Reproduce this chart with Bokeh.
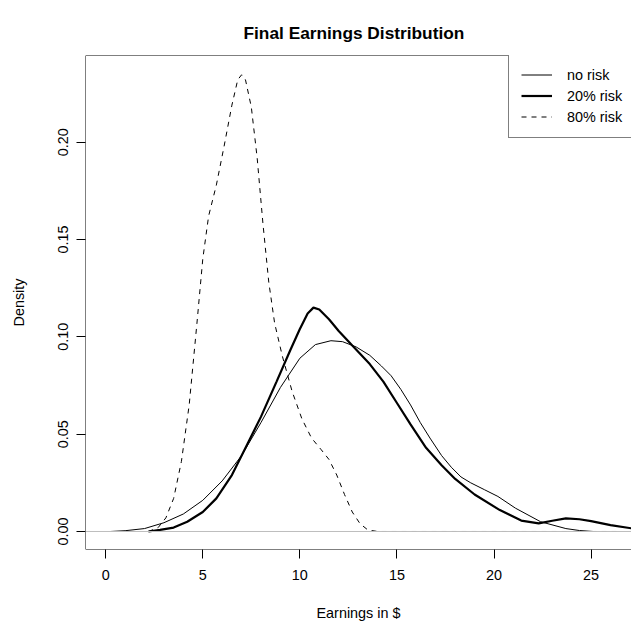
from bokeh.plotting import figure
from bokeh.models import Range1d, FixedTicker, PrintfTickFormatter, Span, Legend, LegendItem
from bokeh.embed import file_html
from bokeh.resources import INLINE

# ---- data ----
x_ticks = [0, 5, 10, 15, 20, 25]
y_ticks = [0.00, 0.05, 0.10, 0.15, 0.20]

no_risk_x = [0.25, 1.0, 2.0, 3.0, 4.0, 5.0, 6.0, 7.0, 8.0, 9.0, 10.0, 10.8, 11.6, 12.2, 12.9,
             13.6, 14.2, 14.7, 15.2, 15.7, 16.2, 16.7, 17.3, 17.8, 18.3, 18.8, 19.5, 20.2,
             21.1, 22.4, 23.7, 24.4, 25.1]
no_risk_y = [0.0, 0.0004, 0.0015, 0.0045, 0.009, 0.016, 0.026, 0.039, 0.056, 0.074, 0.089, 0.096,
             0.098, 0.0975, 0.0948, 0.0905, 0.085, 0.080, 0.073, 0.065, 0.056, 0.048, 0.039,
             0.033, 0.028, 0.025, 0.0215, 0.018, 0.012, 0.005, 0.0015, 0.0005, 0.0]

risk20_x = [2.2, 2.8, 3.5, 4.2, 5.0, 5.7, 6.5, 7.3, 8.0, 8.8, 9.5, 10.0, 10.4, 10.7, 11.0, 11.5,
            12.0, 12.7, 13.6, 14.3, 15.0, 15.7, 16.5, 17.3, 18.0, 19.0, 20.3, 21.4, 22.3, 23.0,
            23.7, 24.4, 25.0, 26.0, 27.1]
risk20_y = [0.0, 0.0008, 0.002, 0.005, 0.010, 0.017, 0.029, 0.045, 0.059, 0.077, 0.093, 0.104,
            0.112, 0.115, 0.114, 0.109, 0.103, 0.0955, 0.086, 0.077, 0.066, 0.055, 0.043, 0.034,
            0.027, 0.019, 0.011, 0.0056, 0.0042, 0.0055, 0.0067, 0.0063, 0.0053, 0.0033, 0.0016]

risk80_x = [2.2, 2.7, 3.1, 3.5, 3.9, 4.3, 4.7, 5.0, 5.3, 5.7, 6.1, 6.5, 6.8, 7.0, 7.2, 7.5, 7.8,
            8.1, 8.4, 8.7, 9.1, 9.6, 10.1, 10.6, 11.1, 11.5, 11.9, 12.3, 12.7, 13.1, 13.5, 14.0,
            26.5]
risk80_y = [0.0, 0.002, 0.007, 0.017, 0.036, 0.065, 0.107, 0.140, 0.162, 0.178, 0.198, 0.219,
            0.232, 0.2346, 0.232, 0.218, 0.192, 0.158, 0.128, 0.107, 0.090, 0.072, 0.058, 0.048,
            0.042, 0.037, 0.029, 0.019, 0.010, 0.004, 0.0008, 0.0, 0.0]

series_labels = ["no risk", "20% risk", "80% risk"]

FONT = "Liberation Sans"

p = figure(width=631, height=625, output_backend="svg", toolbar_location=None,
           x_range=Range1d(-1.04, 27.08), y_range=Range1d(-0.00925, 0.2445),
           min_border_left=85, min_border_right=0, min_border_top=55, min_border_bottom=76)

p.title.text = "Final Earnings Distribution"
p.title.align = "left"
p.title.offset = 158
p.title.text_font = FONT
p.title.text_font_size = "17.3px"
p.title.text_font_style = "bold"
p.title.text_color = "black"
p.title.standoff = 26

p.outline_line_color = None
p.xgrid.visible = False
p.ygrid.visible = False
p.background_fill_color = "white"
p.border_fill_color = "white"

xa = p.xaxis[0]
ya = p.yaxis[0]
xa.ticker = FixedTicker(ticks=x_ticks)
ya.ticker = FixedTicker(ticks=y_ticks)
ya.formatter = PrintfTickFormatter(format="%.2f")
xa.axis_label = "Earnings in $"
ya.axis_label = "Density"
for ax in (xa, ya):
    ax.axis_line_color = None
    ax.major_tick_in = 0
    ax.major_tick_out = 9
    ax.major_tick_line_color = "black"
    ax.minor_tick_line_color = None
    ax.major_label_text_font = FONT
    ax.major_label_text_font_size = "14.4px"
    ax.major_label_text_color = "black"
    ax.axis_label_text_font = FONT
    ax.axis_label_text_font_size = "14.4px"
    ax.axis_label_text_font_style = "normal"
    ax.axis_label_text_color = "black"
xa.major_label_standoff = 11
xa.axis_label_standoff = 22
ya.major_label_orientation = "vertical"
ya.major_label_standoff = 8
ya.axis_label_standoff = 29

# plot box (left, top, bottom) and zero line
p.add_layout(Span(location=-1.04, dimension="height", line_color="black", line_width=1))
p.add_layout(Span(location=0.2445, dimension="width", line_color="black", line_width=1))
p.add_layout(Span(location=-0.00925, dimension="width", line_color="black", line_width=1))
p.add_layout(Span(location=0, dimension="width", line_color="#BEBEBE", line_width=1))

r1 = p.line(no_risk_x, no_risk_y, line_color="black", line_width=1)
r2 = p.line(risk20_x, risk20_y, line_color="black", line_width=2.2)
r3 = p.line(risk80_x, risk80_y, line_color="black", line_width=1, line_dash="5 5")

legend = Legend(items=[LegendItem(label=series_labels[0], renderers=[r1]),
                       LegendItem(label=series_labels[1], renderers=[r2]),
                       LegendItem(label=series_labels[2], renderers=[r3])],
                location=(423, 411), padding=12, spacing=4, margin=0,
                glyph_width=31, glyph_height=17, label_height=17, label_standoff=15,
                border_line_color="black", border_line_width=1,
                background_fill_color="white", background_fill_alpha=1.0,
                label_text_font=FONT, label_text_font_size="14.4px", label_text_color="black")
p.add_layout(legend)

open("out.html", "w").write(file_html(p, INLINE))
